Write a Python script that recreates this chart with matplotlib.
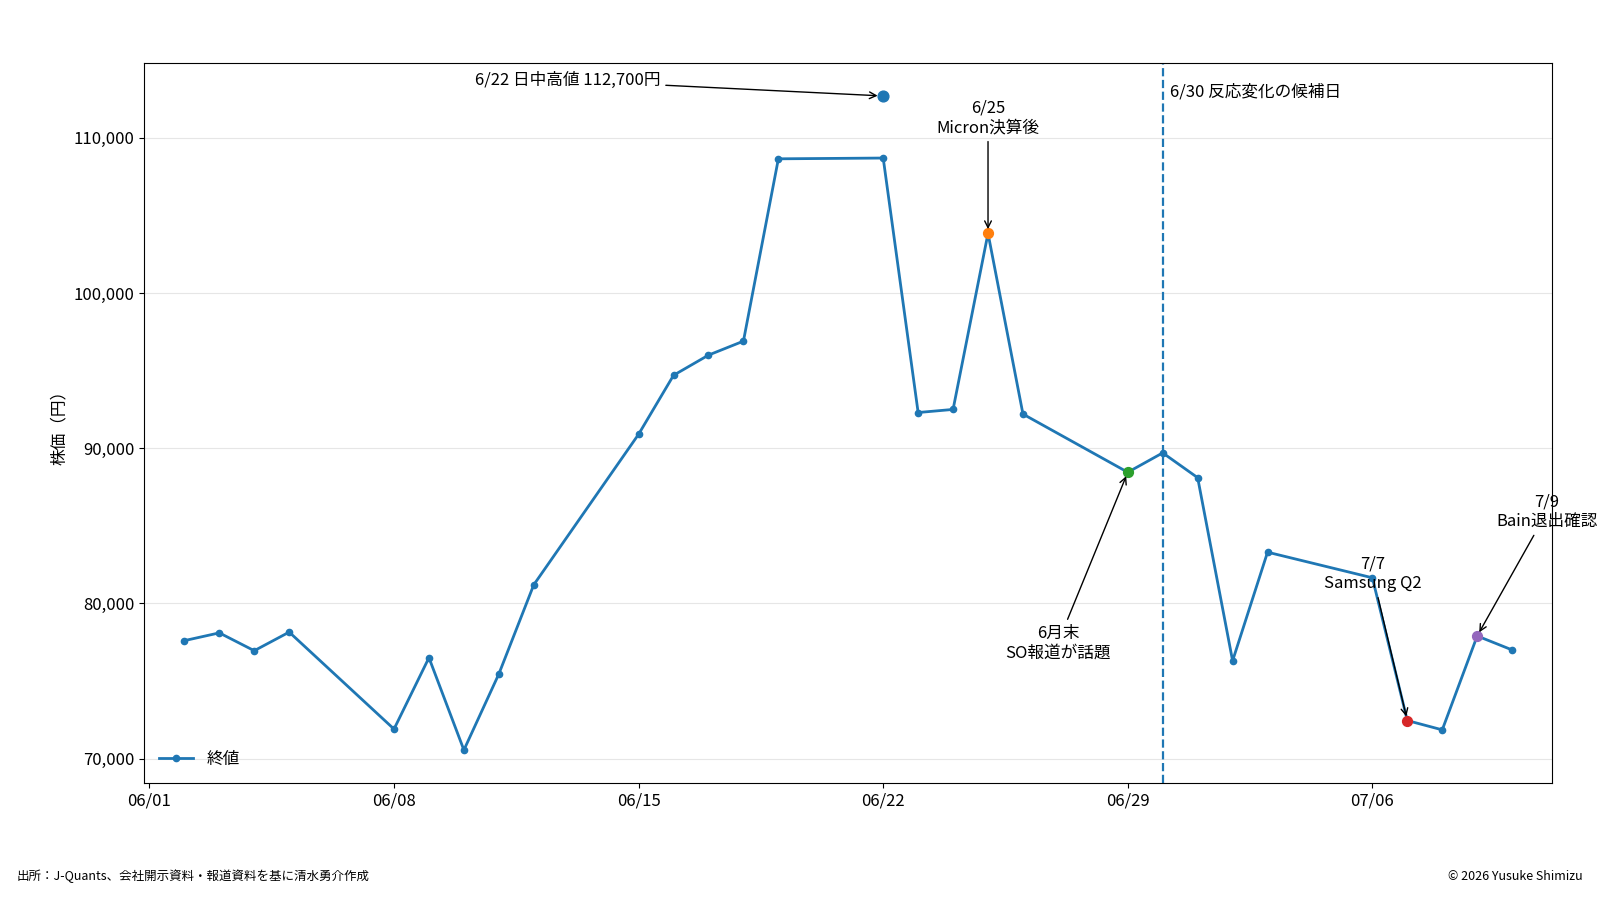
import pandas as pd
import matplotlib.pyplot as plt
import matplotlib.dates as mdates
from matplotlib.ticker import FuncFormatter

plt.rcParams["font.family"] = ["Noto Sans CJK JP", "DejaVu Sans"]

# 終値（2026年）
DATES = ["06-02", "06-03", "06-04", "06-05", "06-08", "06-09", "06-10", "06-11",
         "06-12", "06-15", "06-16", "06-17", "06-18", "06-19", "06-22", "06-23",
         "06-24", "06-25", "06-26", "06-29", "06-30", "07-01", "07-02", "07-03",
         "07-06", "07-07", "07-08", "07-09", "07-10"]
CLOSE = [77600, 78100, 76950, 78150, 71900, 76500, 70550, 75450,
         81200, 90900, 94700, 96000, 96900, 108650, 108700, 92300,
         92500, 103850, 92200, 88450, 89700, 88100, 76300, 83300,
         81650, 72450, 71850, 77900, 77000]

HIGH_DATE = "06-22"
HIGH_VALUE = 112700

EVENTS = ["06-25", "06-29", "07-07", "07-09"]
EVENT_LABELS = ["6/25\nMicron決算後", "6月末\nSO報道が話題", "7/7\nSamsung Q2", "7/9\nBain退出確認"]
EVENT_COLORS = ["#ff7f0e", "#2ca02c", "#d62728", "#9467bd"]
# テキスト位置（日付のずれ, 値のずれ）
EVENT_TEXT_SHIFT = [(0, 7450), (-2, -11000), (-1, 9450), (2, 8000)]

CANDIDATE = "06-30"

to_dt = lambda s: pd.Timestamp(f"2026-{s}")
dates = [to_dt(d) for d in DATES]
close = pd.Series(CLOSE, index=dates)

fig = plt.figure(figsize=(16, 9), dpi=100)
ax = fig.add_axes([0.0903, 0.1303, 0.8799, 0.7994])

ax.plot(dates, CLOSE, color="#1f77b4", linewidth=2, marker="o", markersize=4.5,
        label="終値", zorder=2)

# 日中高値
hd = to_dt(HIGH_DATE)
ax.scatter([hd], [HIGH_VALUE], s=60, color="#1f77b4", zorder=3)
ax.annotate("6/22 日中高値 112,700円", xy=(hd, HIGH_VALUE),
            xytext=(hd - pd.Timedelta(days=6.38), HIGH_VALUE + 1000),
            ha="right", va="center", fontsize=12,
            arrowprops=dict(arrowstyle="->", color="black", lw=1, shrinkB=4))

for d, lab, col, (dx, dy) in zip(EVENTS, EVENT_LABELS, EVENT_COLORS, EVENT_TEXT_SHIFT):
    t = to_dt(d)
    v = close[t]
    ax.scatter([t], [v], s=50, color=col, zorder=3)
    ax.annotate(lab, xy=(t, v), xytext=(t + pd.Timedelta(days=dx), v + dy),
                ha="center", va="center", fontsize=12,
                arrowprops=dict(arrowstyle="->", color="black", lw=1, shrinkB=3))

cd = to_dt(CANDIDATE)
ax.axvline(cd, color="#1f77b4", linestyle="--", linewidth=1.6)
ax.text(cd + pd.Timedelta(days=0.2), 112950, "6/30 反応変化の候補日",
        ha="left", va="center", fontsize=12)

ax.set_xlim(to_dt("06-01") - pd.Timedelta(hours=3.4), to_dt("07-11") + pd.Timedelta(hours=3.6))
ax.xaxis.set_major_locator(mdates.WeekdayLocator(byweekday=mdates.MO))
ax.xaxis.set_major_formatter(mdates.DateFormatter("%m/%d"))
ax.yaxis.set_major_formatter(FuncFormatter(lambda v, _: f"{v:,.0f}"))
ax.tick_params(labelsize=12)
ax.set_ylabel("株価（円）", fontsize=12)
ax.grid(axis="y", color="#e6e6e6", linewidth=0.8)
ax.set_axisbelow(True)
ax.legend(loc="lower left", frameon=False, fontsize=12)

fig.text(0.0105, 0.026, "出所：J-Quants、会社開示資料・報道資料を基に清水勇介作成",
         fontsize=9, ha="left", va="center")
fig.text(0.989, 0.026, "© 2026 Yusuke Shimizu", fontsize=9, ha="right", va="center")

fig.savefig("out.png", dpi=100)
